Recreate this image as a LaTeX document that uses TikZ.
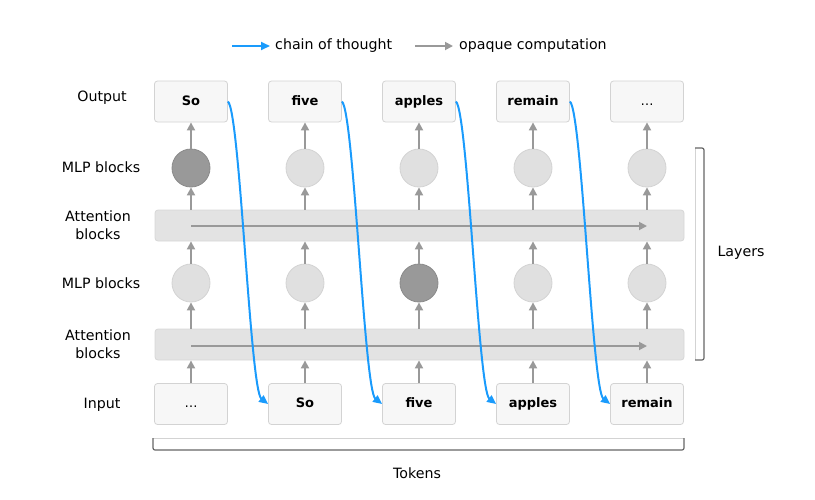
\documentclass[tikz,border=0pt]{standalone}
\usepackage{fontspec}
\setmainfont{DejaVu Sans}
\usepackage{xcolor}
\usetikzlibrary{arrows.meta,calc}

\definecolor{cotblue}{HTML}{1A9BFC}
\definecolor{arrgray}{HTML}{999999}
\definecolor{boxfill}{HTML}{F7F7F7}
\definecolor{boxline}{HTML}{D3D3D3}
\definecolor{barfill}{HTML}{E3E3E3}
\definecolor{mlpfill}{HTML}{E0E0E0}
\definecolor{mlpdark}{HTML}{999999}
\definecolor{brkdark}{HTML}{666666}

\tikzset{
  tokenbox/.style={fill=boxfill, draw=boxline, line width=0.8pt, rounded corners=3pt,
    minimum width=73pt, minimum height=41pt, text height=9.5pt, text depth=2.5pt,
    font=\fontsize{13}{15}\selectfont\bfseries},
  mlpnode/.style={circle, fill=mlpfill, draw=boxline, line width=0.8pt, minimum size=38pt, inner sep=0pt},
  mlpon/.style={mlpnode, fill=mlpdark, draw=arrgray!90!black},
  attbar/.style={fill=barfill, draw=boxline!90, line width=0.8pt, rounded corners=3pt,
    minimum width=529pt, minimum height=31pt},
  rowlabel/.style={align=center, font=\fontsize{14.2}{17.5}\selectfont},
  opaque/.style={-{Triangle[length=8pt,width=8pt]}, arrgray, line width=1.8pt},
  thought/.style={-{Triangle[length=9pt,width=8pt]}, cotblue, line width=2pt},
}

\begin{document}
\begin{tikzpicture}[x=1pt, y=-1pt]
  \useasboundingbox (0,0) rectangle (815,499);

  % Legend
  \coordinate (cotA) at (232,46);
  \coordinate (cotB) at (270,46);
  \coordinate (opqA) at (415,46);
  \coordinate (opqB) at (453,46);
  \draw[thought] (cotA) -- (cotB);
  \node[anchor=west, inner sep=0pt, xshift=5pt, rowlabel] (cottext) at (cotB) {chain of thought};
  \draw[opaque] (opqA) -- (opqB);
  \node[anchor=west, inner sep=0pt, xshift=6pt, rowlabel] (opqtext) at (opqB) {opaque computation};

  % Row labels
  \node[rowlabel] (lblout) at (102,98) {Output};
  \node[rowlabel] (lblmlpA) at (101,167) {MLP blocks};
  \node[rowlabel] (lblattA) at (98,225) {Attention\\blocks};
  \node[rowlabel] (lblmlpB) at (101,283) {MLP blocks};
  \node[rowlabel] (lblattB) at (98,344) {Attention\\blocks};
  \node[rowlabel] (lblin) at (102,405) {Input};

  % Attention bars
  \node[attbar] (attA) at (419.5,225.5) {};
  \node[attbar] (attB) at (419.5,344.5) {};

  % Token columns
  \foreach \i/\outtxt/\intxt in {1/So/\mdseries\dots, 2/five/So, 3/apples/five, 4/remain/apples, 5/\mdseries\dots/remain} {
    \node[tokenbox] (out\i) at ({191+114*(\i-1)},101.5) {\outtxt};
    \node[tokenbox] (in\i) at ({191+114*(\i-1)},404) {\intxt};
  }
  \foreach \i in {1,...,5} {
    \pgfmathsetmacro{\cx}{191+114*(\i-1)}
    \ifnum\i=1 \node[mlpon] (mlpA\i) at (\cx,168) {};
    \else \node[mlpnode] (mlpA\i) at (\cx,168) {}; \fi
    \ifnum\i=3 \node[mlpon] (mlpB\i) at (\cx,283) {};
    \else \node[mlpnode] (mlpB\i) at (\cx,283) {}; \fi
    % vertical flow
    \draw[opaque] (in\i.north) -- (in\i.north |- attB.south);
    \draw[opaque] (attB.north -| mlpB\i) -- (mlpB\i.south);
    \draw[opaque] (mlpB\i.north) -- (mlpB\i.north |- attA.south);
    \draw[opaque] (attA.north -| mlpA\i) -- (mlpA\i.south);
    \draw[opaque] (mlpA\i.north) -- (out\i.south);
  }

  % Arrows inside attention bars
  \draw[opaque] ($(attA.center -| in1)+(0,0.5)$) -- ($(attA.center -| in5)+(0,0.5)$);
  \draw[opaque] ($(attB.center -| in1)+(0,1.5)$) -- ($(attB.center -| in5)+(0,1.5)$);

  % Chain of thought
  \foreach \i/\j in {1/2, 2/3, 3/4, 4/5} {
    \draw[thought] (out\i.east) .. controls +(12,10) and +(-18,-14) .. (in\j.west);
  }

  % Layers bracket
  \coordinate (layT) at (695,148);
  \coordinate (layB) at (695,360);
  \draw[boxline, line width=0.8pt] (layT) -- (layB);
  \draw[brkdark, line width=1.2pt, rounded corners=2pt] (layT) -- ++(9,0) -- ++(0,212) -- (layB);
  \node[rowlabel, anchor=west] (lbllayers) at (714,253) {Layers};

  % Tokens bracket
  \coordinate (tokL) at (153,438);
  \coordinate (tokR) at (684,438);
  \draw[boxline, line width=0.8pt] (tokL) -- (tokR);
  \draw[brkdark, line width=1.2pt, rounded corners=2pt] (tokL) -- ++(0,12) -- ++(531,0) -- (tokR);
  \node[rowlabel] (lbltokens) at (417,473) {Tokens};
\end{tikzpicture}
\end{document}
